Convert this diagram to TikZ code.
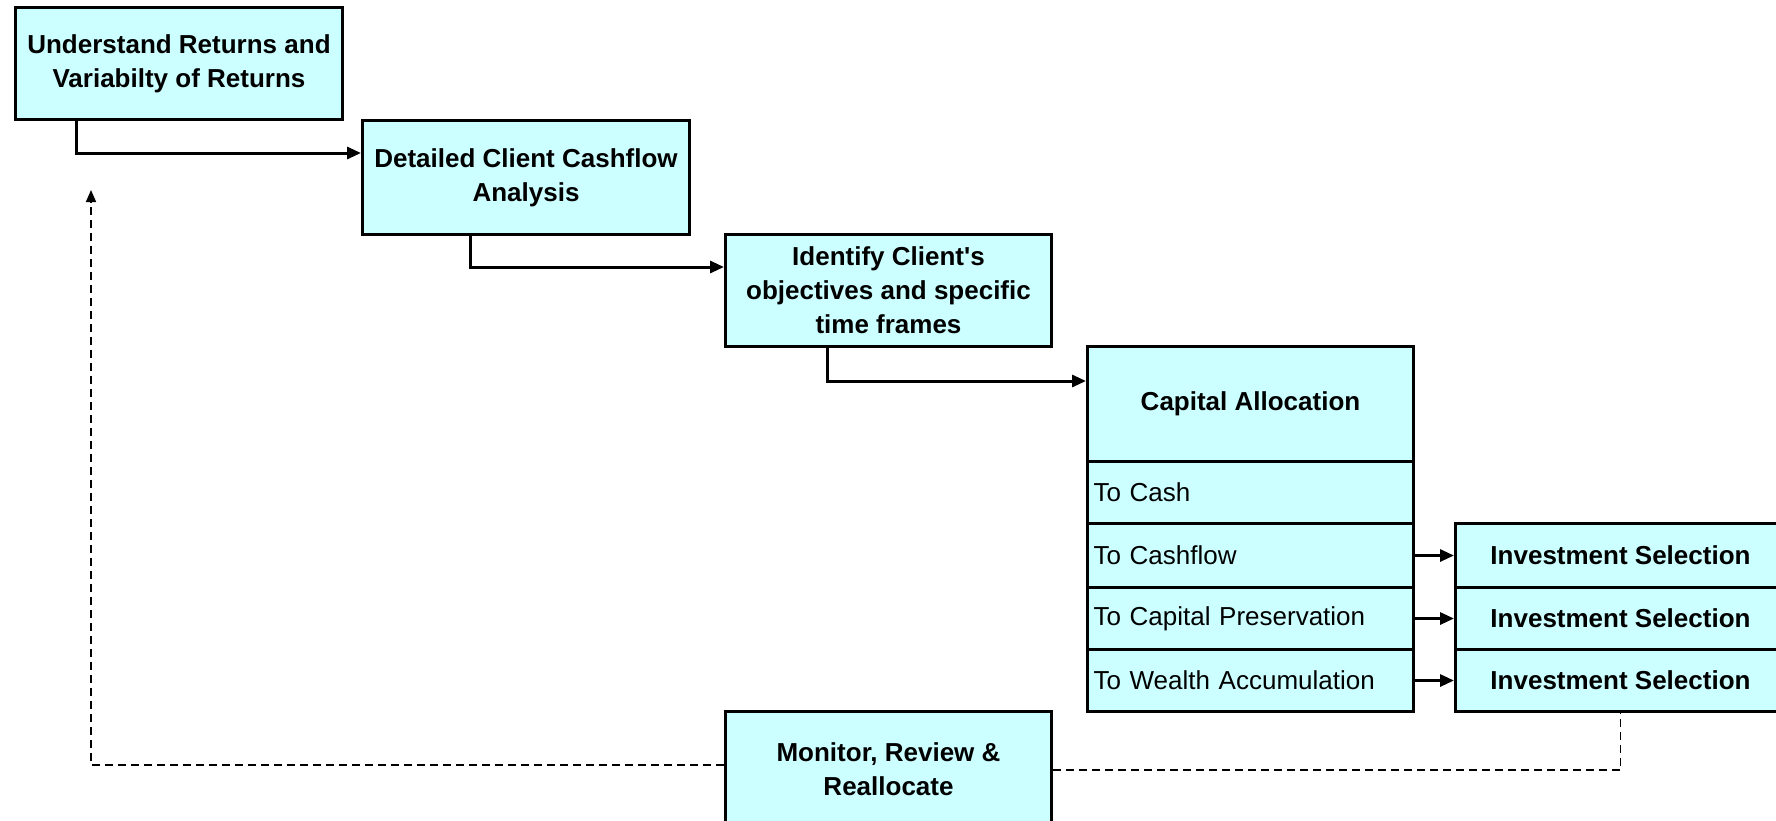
\documentclass[tikz,border=0pt]{standalone}
\usepackage{fontspec}
\setmainfont{Liberation Sans}[Ligatures=TeXOff]
\usetikzlibrary{arrows.meta}
\definecolor{boxfill}{HTML}{CCFFFF}
\begin{document}
\begin{tikzpicture}[x=1pt,y=-1pt,
  box/.style={draw=black, line width=3pt, fill=boxfill, rectangle, anchor=north west,
    inner sep=0pt, align=center, font=\bfseries\fontsize{26}{34}\selectfont},
  rowbox/.style={draw=black, line width=3pt, fill=boxfill, rectangle, anchor=north west,
    inner xsep=6pt, inner ysep=0pt, text width=314pt, align=left, font=\fontsize{26}{34}\selectfont},
  flow/.style={line width=3pt, -{Triangle[length=14pt,width=12pt]}},
  fb/.style={line width=1.6pt, dash pattern=on 8pt off 5pt}]
\useasboundingbox (0,0) rectangle (1776,820);
\clip (0,0) rectangle (1776,820);

\node[box, minimum width=327pt, minimum height=112pt] (b1) at (14,6) {Understand Returns and\\Variabilty of Returns};
\node[box, minimum width=327pt, minimum height=114pt] (b2) at (361,119) {Detailed Client Cashflow\\Analysis};
\node[box, minimum width=326pt, minimum height=112pt] (b3) at (724,233) {Identify Client's\\objectives and specific\\time frames};
\node[box, minimum width=326pt, minimum height=115pt] (ca) at (1086,345) {Capital Allocation};
\node[rowbox, minimum height=62pt] (r1) at (1086,460) {To Cash};
\node[rowbox, minimum height=64pt] (r2) at (1086,522) {To Cashflow};
\node[rowbox, minimum height=62pt] (r3) at (1086,586) {To Capital Preservation};
\node[rowbox, minimum height=62pt] (r4) at (1086,648) {To Wealth Accumulation};
\node[box, minimum width=330pt, minimum height=64pt] (i1) at (1454,522) {Investment Selection};
\node[box, minimum width=330pt, minimum height=62pt] (i2) at (1454,586) {Investment Selection};
\node[box, minimum width=330pt, minimum height=62pt] (i3) at (1454,648) {Investment Selection};
\node[box, minimum width=326pt, minimum height=116pt] (mon) at (724,710) {Monitor, Review \&\\Reallocate};

\draw[flow] ([xshift=62pt]b1.south west) |- ([yshift=-34pt]b2.north west);
\draw[flow] ([xshift=109pt]b2.south west) |- ([yshift=-34pt]b3.north west);
\draw[flow] ([xshift=103pt]b3.south west) |- ([yshift=-36pt]ca.north west);
\draw[flow] (r2.east) -- (i1.west);
\draw[flow] (r3.east) -- (i2.west);
\draw[flow] (r4.east) -- (i3.west);

\coordinate (fbtip) at (91,190);
\draw[fb, -{Triangle[length=12pt,width=10pt]}] ([yshift=-55pt]mon.north west) -| (fbtip);
\draw[fb] ([yshift=-60pt]mon.north east) -| (i3.south);
\end{tikzpicture}
\end{document}
